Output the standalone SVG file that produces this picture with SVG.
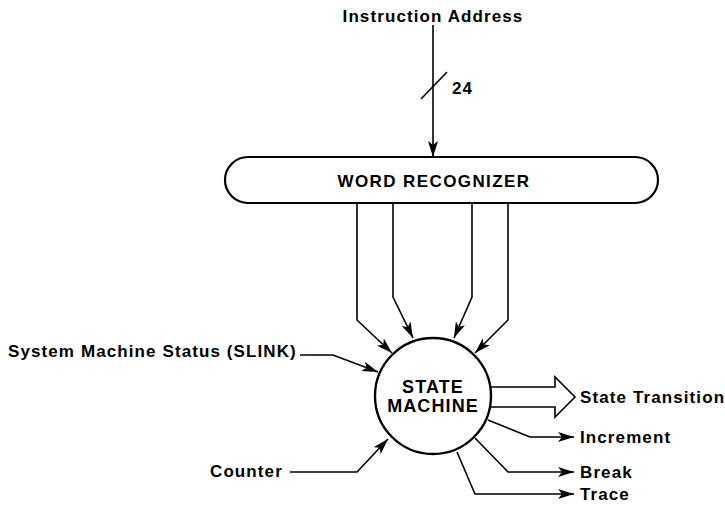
<svg xmlns="http://www.w3.org/2000/svg" width="725" height="505" viewBox="0 0 725 505">
<style>
text{font-family:"Liberation Sans",Arial,sans-serif;font-weight:bold;fill:#000}
.l{font-size:17px;letter-spacing:1.1px}
.c{stroke:#000;stroke-width:1.6;fill:none}
</style>
<defs>
<marker id="ah" viewBox="0 0 16 10" refX="16" refY="5" markerWidth="16" markerHeight="10" markerUnits="userSpaceOnUse" orient="auto">
<path d="M0,0 L16,5 L0,10 L4,5 Z" fill="#000"/>
</marker>
</defs>
<rect width="725" height="505" fill="#fff"/>
<g id="instruction-address">
<text class="l" x="433" y="22" text-anchor="middle" letter-spacing="0.9">Instruction Address</text>
<text class="l" x="452" y="94">24</text>
</g>
<g id="word-recognizer">
<rect x="225" y="157" width="433" height="46" rx="23" ry="23" fill="#fff" stroke="#000" stroke-width="2.2"/>
<text x="434" y="187" text-anchor="middle" font-size="17" letter-spacing="1.4">WORD RECOGNIZER</text>
</g>
<g id="state-machine">
<circle cx="433" cy="396" r="58" fill="#fff" stroke="#000" stroke-width="2.4"/>
<text x="433" y="393" text-anchor="middle" font-size="18" letter-spacing="1.1">STATE</text>
<text x="433" y="412" text-anchor="middle" font-size="18" letter-spacing="1.1">MACHINE</text>
</g>
<g id="slink"><text class="l" x="8" y="357" letter-spacing="1.2">System Machine Status (SLINK)</text></g>
<g id="counter"><text class="l" x="210" y="477">Counter</text></g>
<g id="outputs">
<text class="l" x="580" y="403">State Transition</text>
<text class="l" x="580" y="443">Increment</text>
<text class="l" x="580" y="478">Break</text>
<text class="l" x="580" y="500">Trace</text>
</g>
<g id="connectors">
<path class="c" d="M433,25 V157" marker-end="url(#ah)"/>
<path class="c" d="M421,99 L447,72"/>
<path class="c" d="M357,204 V320 L392,353" marker-end="url(#ah)"/>
<path class="c" d="M393,204 V297 L413,338" marker-end="url(#ah)"/>
<path class="c" d="M472,204 V297 L454,338" marker-end="url(#ah)"/>
<path class="c" d="M508,204 V320 L475,353" marker-end="url(#ah)"/>
<path class="c" d="M300,355 H333 L378,372" marker-end="url(#ah)"/>
<path class="c" d="M290,472 H357 L388,439" marker-end="url(#ah)"/>
<path class="c" d="M490,387 H555 V377 L575,397 L555,417 V407 H490" stroke-width="1.8"/>
<path class="c" d="M488,420 L530,437 H574" marker-end="url(#ah)"/>
<path class="c" d="M475,438 L508,472 H574" marker-end="url(#ah)"/>
<path class="c" d="M457,452 L475,494 H574" marker-end="url(#ah)"/>
</g>
</svg>
